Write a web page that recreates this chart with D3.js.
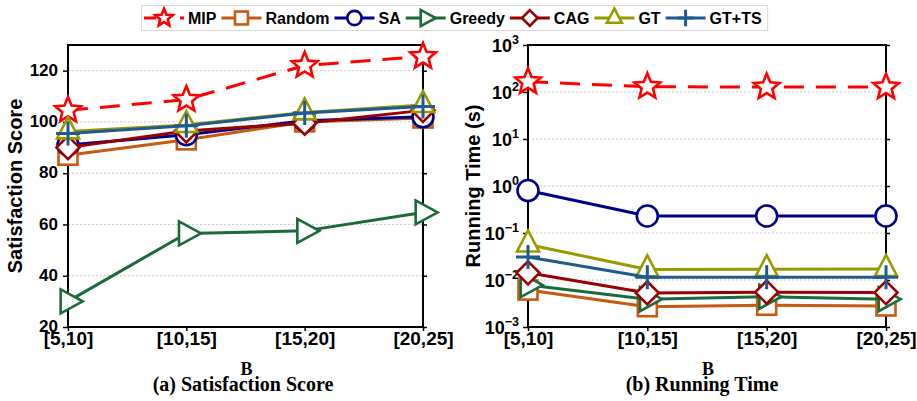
<!DOCTYPE html>
<html><head><meta charset="utf-8">
<script src="https://cdn.jsdelivr.net/npm/d3@7"></script>
<style>body{margin:0;background:#fff} svg{display:block}</style>
</head><body><svg id="c" width="917" height="401"></svg>
<script>
// ---------- data ----------
const categories = ["[5,10]", "[10,15]", "[15,20]", "[20,25]"];
const methods = ["MIP", "Random", "SA", "Greedy", "CAG", "GT", "GT+TS"];
const colors = ["#ff0000", "#c55a11", "#00008b", "#1b6b3a", "#990000", "#999900", "#1f5b8e"];
const markers = ["star", "square", "circle", "triRight", "diamond", "triUp", "plus"];

// (a) Satisfaction Score
const scoreMIP    = [104.5, 108.7, 122.0, 125.5];
const scoreRandom = [87.0, 93.0, 100.0, 101.5];
const scoreSA     = [91.0, 95.0, 100.5, 102.0];
const scoreGreedy = [30.0, 56.5, 57.5, 64.7];
const scoreCAG    = [90.0, 96.5, 99.5, 104.5];
const scoreGT     = [96.3, 98.8, 103.7, 106.6];
const scoreGTTS   = [95.5, 98.5, 103.5, 106.0];

// (b) Running Time (s)
const timeMIP    = [165, 130, 127, 127];
const timeRandom = [0.0061, 0.0027, 0.0029, 0.0028];
const timeSA     = [0.80, 0.23, 0.23, 0.23];
const timeGreedy = [0.0078, 0.0039, 0.0044, 0.0039];
const timeCAG    = [0.0142, 0.0053, 0.0055, 0.0054];
const timeGT     = [0.057, 0.0168, 0.0170, 0.0172];
const timeGTTS   = [0.031, 0.0114, 0.0114, 0.0114];

const scoreTicks = [20, 40, 60, 80, 100, 120];
const timeTickExps = [-3, -2, -1, 0, 1, 2, 3];

const scoreSeries = [scoreMIP, scoreRandom, scoreSA, scoreGreedy, scoreCAG, scoreGT, scoreGTTS];
const timeSeries = [timeMIP, timeRandom, timeSA, timeGreedy, timeCAG, timeGT, timeGTTS];

// ---------- drawing ----------
const svg = d3.select("#c");
const SANS = "'Liberation Sans', Arial, sans-serif";
const SERIF = "'Liberation Serif', 'Times New Roman', serif";

function starPath(R, r) {
  const pts = [];
  for (let i = 0; i < 10; i++) {
    const a = -Math.PI / 2 + i * Math.PI / 5;
    const rad = i % 2 === 0 ? R : r;
    pts.push([rad * Math.cos(a), rad * Math.sin(a)]);
  }
  return "M" + pts.map(p => p[0].toFixed(2) + "," + p[1].toFixed(2)).join("L") + "Z";
}

function drawMarker(g, type, s, color) {
  const sw = 2.6;
  if (type === "star") {
    g.append("path").attr("d", starPath(13.5 * s, 6 * s)).attr("fill", "#fff").attr("stroke", color).attr("stroke-width", sw).attr("stroke-linejoin", "miter");
  } else if (type === "square") {
    const h = 9.5 * s;
    g.append("rect").attr("x", -h).attr("y", -h).attr("width", 2 * h).attr("height", 2 * h).attr("fill", "#fff").attr("stroke", color).attr("stroke-width", sw);
  } else if (type === "circle") {
    g.append("circle").attr("r", 10.5 * s).attr("fill", "#fff").attr("stroke", color).attr("stroke-width", sw);
  } else if (type === "diamond") {
    const h = 11.5 * s;
    g.append("path").attr("d", `M0,${-h}L${h},0L0,${h}L${-h},0Z`).attr("fill", "#fff").attr("stroke", color).attr("stroke-width", sw);
  } else if (type === "triUp") {
    const w = 22 * s, h = 21 * s;
    g.append("path").attr("d", `M0,${-2 * h / 3}L${w / 2},${h / 3}L${-w / 2},${h / 3}Z`).attr("fill", "#fff").attr("stroke", color).attr("stroke-width", sw);
  } else if (type === "triRight") {
    const w = 22 * s, h = 24 * s;
    g.append("path").attr("d", `M${2 * w / 3},0L${-w / 3},${h / 2}L${-w / 3},${-h / 2}Z`).attr("fill", "#fff").attr("stroke", color).attr("stroke-width", sw);
  } else if (type === "plus") {
    const h = 12 * s;
    g.append("path").attr("d", `M${-h},0L${h},0M0,${-h}L0,${h}`).attr("fill", "none").attr("stroke", color).attr("stroke-width", 3);
  }
}

function drawPanel(opt) {
  const { x0, x1, y0, y1, y, series, yLabel, subTitle, subX, logAxis, tickVals } = opt;
  const x = d3.scalePoint().domain(categories).range([x0, x1]);
  const g = svg.append("g");

  // grid
  g.append("g").selectAll("line").data(tickVals.filter(v => { const p = y(v); return p > y0 + 1 && p < y1 - 1; }))
    .join("line").attr("x1", x0).attr("x2", x1).attr("y1", d => y(d)).attr("y2", d => y(d))
    .attr("stroke", "#c8c8c8").attr("stroke-width", 1).attr("stroke-dasharray", "2,2");

  // left axis
  const yAxis = d3.axisLeft(y).tickValues(tickVals).tickSize(5).tickSizeOuter(0).tickPadding(5);
  if (logAxis) yAxis.tickFormat(() => "");
  else yAxis.tickFormat(d3.format("d"));
  const ga = g.append("g").attr("transform", `translate(${x0},0)`).call(yAxis);
  ga.select(".domain").remove();
  ga.selectAll(".tick line").attr("stroke", "#000").attr("stroke-width", 1.5);
  ga.selectAll(".tick text").attr("font-family", SANS).attr("font-weight", "bold").attr("font-size", 17).attr("fill", "#000").attr("dy", "0.28em");
  if (logAxis) {
    ga.selectAll(".tick text").remove();
    ga.selectAll(".tick").append("text")
      .attr("x", -9).attr("y", 6.5).attr("text-anchor", "end")
      .attr("font-family", SANS).attr("font-weight", "bold").attr("fill", "#000")
      .each(function (d) {
        const t = d3.select(this);
        t.append("tspan").attr("font-size", 18).text("10");
        t.append("tspan").attr("font-size", 12.5).attr("dy", -8).text(d3.format("d")(Math.round(Math.log10(d))).replace("-", "\u2212"));
      });
  }
  // right ticks
  const gr = g.append("g").attr("transform", `translate(${x1},0)`).call(d3.axisRight(y).tickValues(tickVals).tickSize(4).tickSizeOuter(0).tickFormat(""));
  gr.select(".domain").remove();
  gr.selectAll(".tick line").attr("stroke", "#000").attr("stroke-width", 1.5);

  // bottom axis
  const gx = g.append("g").attr("transform", `translate(0,${y1})`).call(d3.axisBottom(x).tickSize(4).tickSizeOuter(0).tickPadding(1));
  gx.select(".domain").remove();
  gx.selectAll(".tick line").attr("stroke", "#000").attr("stroke-width", 1.5);
  gx.selectAll(".tick text").attr("font-family", SANS).attr("font-weight", "bold").attr("font-size", 19).attr("fill", "#000").attr("dy", "0.7em");

  // frame
  g.append("rect").attr("x", x0).attr("y", y0).attr("width", x1 - x0).attr("height", y1 - y0)
    .attr("fill", "none").attr("stroke", "#000").attr("stroke-width", 2);

  // series
  const line = d3.line().x((d, i) => x(categories[i])).y(d => y(d));
  series.forEach((vals, k) => {
    const sg = g.append("g");
    sg.append("path").attr("d", line(vals)).attr("fill", "none").attr("stroke", colors[k])
      .attr("stroke-width", 3).attr("stroke-linejoin", "round")
      .attr("stroke-dasharray", k === 0 ? "20,12" : null);
    vals.forEach((v, i) => {
      const mg = sg.append("g").attr("transform", `translate(${x(categories[i])},${y(v)})`);
      drawMarker(mg, markers[k], 1, colors[k]);
    });
  });

  // labels
  const cx = (x0 + x1) / 2, cy = (y0 + y1) / 2;
  svg.append("text").attr("transform", `translate(${opt.yLabelX},${cy}) rotate(-90)`)
    .attr("text-anchor", "middle").attr("font-family", SANS).attr("font-weight", "bold").attr("font-size", 20).text(yLabel);
  svg.append("text").attr("x", cx + 1).attr("y", 375).attr("text-anchor", "middle")
    .attr("font-family", SERIF).attr("font-weight", "bold").attr("font-size", 18).text("B");
  svg.append("text").attr("x", subX).attr("y", 391).attr("text-anchor", "middle")
    .attr("font-family", SERIF).attr("font-weight", "bold").attr("font-size", 20).text(subTitle);
}

const yScore = d3.scaleLinear().domain([20, 130]).range([327, 45]);
drawPanel({ x0: 68, x1: 423, y0: 45, y1: 327, y: yScore, series: scoreSeries,
  yLabel: "Satisfaction Score", yLabelX: 22, subTitle: "(a) Satisfaction Score", subX: 243,
  logAxis: false, tickVals: scoreTicks });

const yTime = d3.scaleLog().domain([1e-3, 1e3]).range([327, 45]);
drawPanel({ x0: 528, x1: 886, y0: 45, y1: 327, y: yTime, series: timeSeries,
  yLabel: "Running Time (s)", yLabelX: 480, subTitle: "(b) Running Time", subX: 702,
  logAxis: true, tickVals: timeTickExps.map(e => Math.pow(10, e)) });

// legend
const lg = svg.append("g");
const box = lg.append("rect").attr("x", 141.5).attr("y", 5.5).attr("height", 25).attr("fill", "#fff").attr("stroke", "#d9d9d9").attr("stroke-width", 1);
let lx = 144;
methods.forEach((m, k) => {
  const it = lg.append("g");
  it.append("line").attr("x1", lx).attr("x2", lx + 40).attr("y1", 18).attr("y2", 18)
    .attr("stroke", colors[k]).attr("stroke-width", 3).attr("stroke-dasharray", k === 0 ? "12,24,4" : null);
  const mg = it.append("g").attr("transform", `translate(${lx + 20},18)`);
  drawMarker(mg, markers[k], 0.68, colors[k]);
  const t = it.append("text").attr("x", lx + 44).attr("y", 23.5).attr("font-family", SANS).attr("font-weight", "bold").attr("font-size", 16).attr("fill", "#000").text(m);
  lx = lx + 44 + t.node().getComputedTextLength() + 5;
});
box.attr("width", lx - 141.5 + 1);
</script></body></html>
